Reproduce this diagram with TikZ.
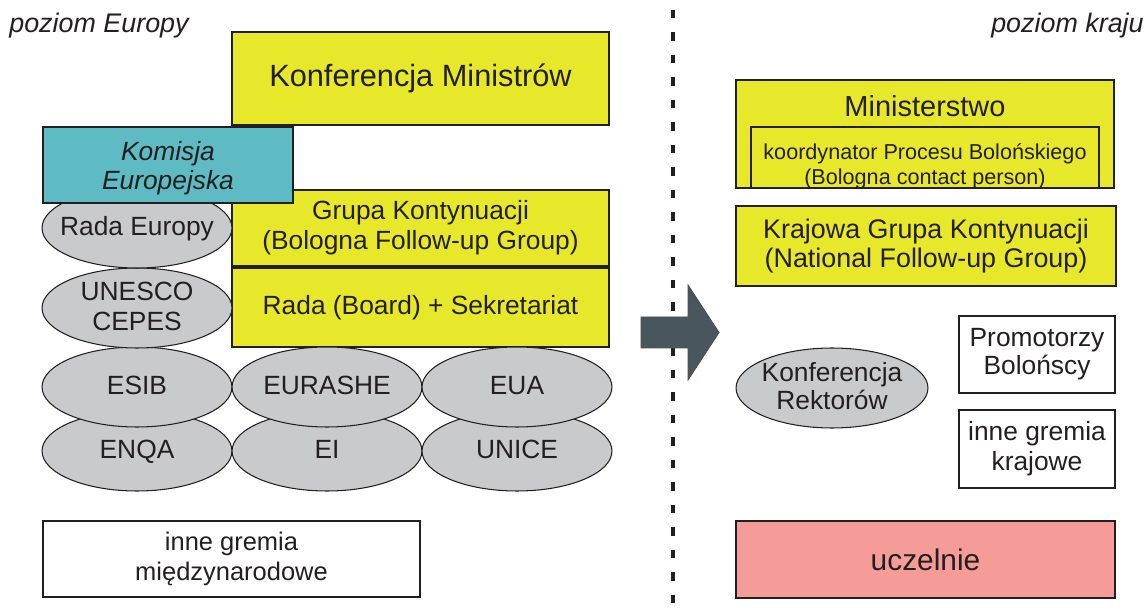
\documentclass[tikz,border=0pt]{standalone}
\usepackage{fontspec}
\setmainfont{Liberation Sans}
\usetikzlibrary{shapes.geometric}
\definecolor{zolty}{HTML}{E8E82A}
\definecolor{morski}{HTML}{5FBBC3}
\definecolor{szary}{HTML}{C9CACE}
\definecolor{rozowy}{HTML}{F69C98}
\definecolor{grafit}{HTML}{4A565E}
\definecolor{ramka}{HTML}{231F20}
\tikzstyle{box} = [rectangle, inner sep = 0pt, text centered, align = center, draw = ramka, line width = 0.8pt, text = ramka, font = \fontsize{15}{17}\selectfont]
\tikzstyle{yellowbox} = [box, fill = zolty]
\tikzstyle{whitebox} = [box, fill = white]
\tikzstyle{org} = [ellipse, inner xsep = -0.6cm, inner ysep = 0pt, text depth = 0.2em, minimum width = 3.8cm, minimum height = 1.6cm, align = center, draw = ramka, line width = 0.6pt, fill = szary, text = ramka, font = \fontsize{15}{17}\selectfont]
\tikzstyle{level} = [inner sep = 0pt, text = ramka, font = \fontsize{15.3}{18}\selectfont\itshape]
\tikzstyle{divider} = [line width = 2.3pt, dash pattern = on 4.8pt off 8pt, color = ramka]
\tikzstyle{bigarrow} = [draw = ramka!80, line width = 0.5pt, fill = grafit]

\begin{document}
\begin{tikzpicture}[x = 0.02cm, y = -0.02cm]
	\useasboundingbox (0,0) rectangle (1145,614);

	% poziom europejski
	\node[level, anchor = base west](europa) at (9,33){poziom Europy};
	\node[yellowbox, minimum width = 7.54cm, minimum height = 1.86cm, font = \fontsize{17.5}{20}\selectfont](konferencja) at (420.5,78.5){Konferencja Ministrów};
	\node[yellowbox, minimum width = 7.54cm, minimum height = 1.52cm](grupa) at (420.5,228){Grupa Kontynuacji\\(Bologna Follow-up Group)};
	\node[yellowbox, minimum width = 7.54cm, minimum height = 1.58cm](rada) at (420.5,307.5){Rada (Board) + Sekretariat};

	\node[org](enqa) at (137,451){ENQA};
	\node[org](ei) at (327,451){EI};
	\node[org](unice) at (517,451){UNICE};
	\node[org](esib) at (137,387){ESIB};
	\node[org](eurashe) at (327,387){EURASHE};
	\node[org](eua) at (517,387){EUA};
	\node[org](unesco) at (137,308){UNESCO\\CEPES};
	\node[org](rada europy) at (137,228){Rada Europy};

	\node[box, fill = morski, minimum width = 5cm, minimum height = 1.52cm, text depth = 0pt, font = \fontsize{15}{16.5}\selectfont\itshape](komisja) at (168,165){Komisja\\Europejska};
	\node[whitebox, minimum width = 7.54cm, minimum height = 1.52cm, font = \fontsize{14.5}{17}\selectfont](inne europa) at (231.5,559){inne gremia\\międzynarodowe};

	% podzial
	\coordinate (divider top) at (673,10);
	\coordinate (divider bottom) at (673,614);
	\draw [divider](divider top)--(divider bottom);
	\draw [bigarrow](641,317) -- (688,317) -- (688,285) -- (719,332.5) -- (688,380) -- (688,348) -- (641,348) -- cycle;

	% poziom krajowy
	\node[level, anchor = base east](kraj) at (1144,33){poziom kraju};
	\node[yellowbox, minimum width = 7.56cm, minimum height = 2.16cm](ministerstwo) at (925,134){};
	\node[inner sep = 0pt, text = ramka, font = \fontsize{16.5}{19}\selectfont](ministerstwo text) at (925,106){Ministerstwo};
	\node[box, fill = zolty, minimum width = 6.96cm, minimum height = 1.22cm](koordynator) at (925,157.5){};
	\node[inner sep = 0pt, align = center, text = ramka, font = \fontsize{12.3}{14}\selectfont](koordynator text) at (925,166){koordynator Procesu Bolońskiego\\(Bologna contact person)};
	\node[yellowbox, minimum width = 7.6cm, minimum height = 1.6cm, font = \fontsize{15.3}{17}\selectfont](krajowa) at (926,246){Krajowa Grupa Kontynuacji\\(National Follow-up Group)};
	\node[org, minimum width = 3.84cm, font = \fontsize{15}{16}\selectfont](rektorzy) at (832,388){Konferencja\\Rektorów};
	\node[whitebox, minimum width = 3.12cm, minimum height = 1.54cm, font = \fontsize{15}{16}\selectfont](promotorzy) at (1037,354.5){Promotorzy\\Bolońscy};
	\node[whitebox, minimum width = 3.12cm, minimum height = 1.56cm](inne kraj) at (1037,449){inne gremia\\krajowe};
	\node[box, fill = rozowy, minimum width = 7.58cm, minimum height = 1.54cm, font = \fontsize{17}{20}\selectfont](uczelnie) at (925.5,559.5){uczelnie};

\end{tikzpicture}
\end{document}
